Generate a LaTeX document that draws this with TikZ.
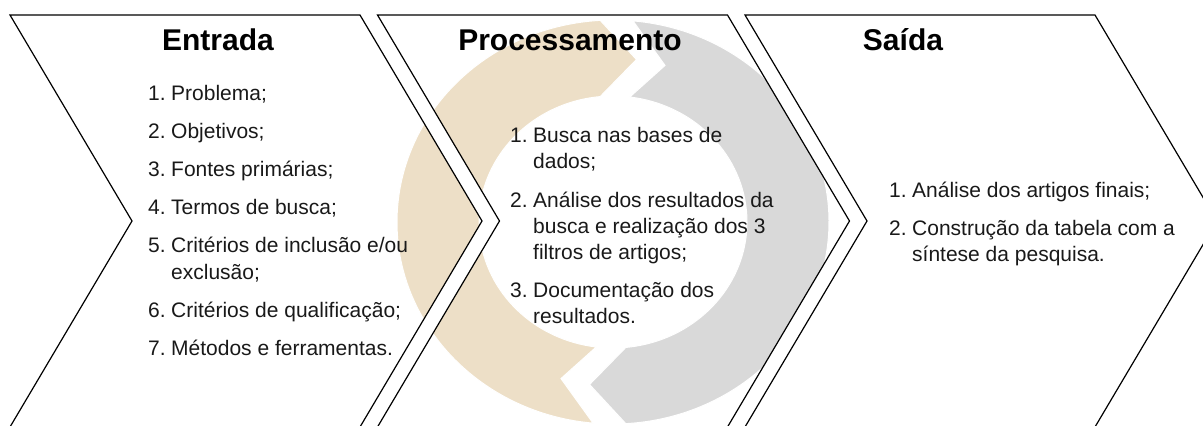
\documentclass[tikz,border=0pt]{standalone}
\usepackage{fontspec}
\setmainfont{Liberation Sans}
\definecolor{tanarrow}{RGB}{237,223,199}
\definecolor{grayarrow}{RGB}{217,217,217}
\newcommand{\itemno}[2]{\makebox[23pt][l]{#1}#2}
\newcommand{\itemcont}[1]{\hspace*{23pt}#1}
\begin{document}
\begin{tikzpicture}[x=1pt,y=-1pt,
  chev/.style={draw=black,line width=1.2pt,line join=miter},
  gapfill/.style={fill=white,draw=none},
  ringpart/.style={draw=white,line width=1pt},
  title/.style={font=\fontsize{30}{36}\selectfont\bfseries,inner sep=0pt,anchor=base},
  listtxt/.style={font=\fontsize{21}{26.2}\selectfont,inner sep=0pt,anchor=base west,text=black!90},
]
\useasboundingbox (0,0) rectangle (1203,426);
% circular arrows
\begin{scope}[shift={(613,222)}]
  \fill[tanarrow,ringpart]
    (264.7:216pt and 202pt) arc[start angle=264.7,end angle=93.4,x radius=216pt,y radius=202pt]
    -- (82.3:175pt and 164pt) -- (95.5:134pt and 126pt)
    arc[start angle=95.5,end angle=262.8,x radius=134pt,y radius=126pt]
    -- (252.7:175pt and 164pt) -- cycle;
  \fill[grayarrow,ringpart]
    (84.7:216pt and 202pt) arc[start angle=84.7,end angle=-86.6,x radius=216pt,y radius=202pt]
    -- (-97.7:175pt and 164pt) -- (-84.5:134pt and 126pt)
    arc[start angle=-84.5,end angle=82.8,x radius=134pt,y radius=126pt]
    -- (72.7:175pt and 164pt) -- cycle;
\end{scope}
% white gaps between chevrons
\fill[gapfill] (360,15) -- (377.5,15) -- (499.5,221) -- (376.9,428) -- (359.4,428) -- (482,221) -- cycle;
\fill[gapfill] (727.5,15) -- (745,15) -- (867,221) -- (744.4,428) -- (726.9,428) -- (849.5,221) -- cycle;
% chevrons
\draw[chev] (10,15) -- (360,15) -- (482,221) -- (359.4,428) -- (9.4,428) -- (132,221) -- cycle;
\draw[chev] (377.5,15) -- (727.5,15) -- (849.5,221) -- (726.9,428) -- (376.9,428) -- (499.5,221) -- cycle;
\draw[chev] (745,15) -- (1095,15) -- (1217,221) -- (1094.4,428) -- (744.4,428) -- (867,221) -- cycle;
% titles
\node[title] (t1) at (218,50) {Entrada};
\node[title] (t2) at (570,50) {Processamento};
\node[title] (t3) at (903,50) {Saída};
% lists
\node[listtxt] (l1) at (148,100) {\begin{tabular}[t]{@{}l@{}}
\itemno{1.}{Problema;}\\[12pt]
\itemno{2.}{Objetivos;}\\[12pt]
\itemno{3.}{Fontes primárias;}\\[12pt]
\itemno{4.}{Termos de busca;}\\[12pt]
\itemno{5.}{Critérios de inclusão e/ou}\\
\itemcont{exclusão;}\\[12pt]
\itemno{6.}{Critérios de qualificação;}\\[12pt]
\itemno{7.}{Métodos e ferramentas.}
\end{tabular}};
\node[listtxt] (l2) at (510,142.7) {\begin{tabular}[t]{@{}l@{}}
\itemno{1.}{Busca nas bases de}\\
\itemcont{dados;}\\[12pt]
\itemno{2.}{Análise dos resultados da}\\
\itemcont{busca e realização dos 3}\\
\itemcont{filtros de artigos;}\\[12pt]
\itemno{3.}{Documentação dos}\\
\itemcont{resultados.}
\end{tabular}};
\node[listtxt] (l3) at (889,197) {\begin{tabular}[t]{@{}l@{}}
\itemno{1.}{Análise dos artigos finais;}\\[12pt]
\itemno{2.}{Construção da tabela com a}\\
\itemcont{síntese da pesquisa.}
\end{tabular}};
\end{tikzpicture}
\end{document}
